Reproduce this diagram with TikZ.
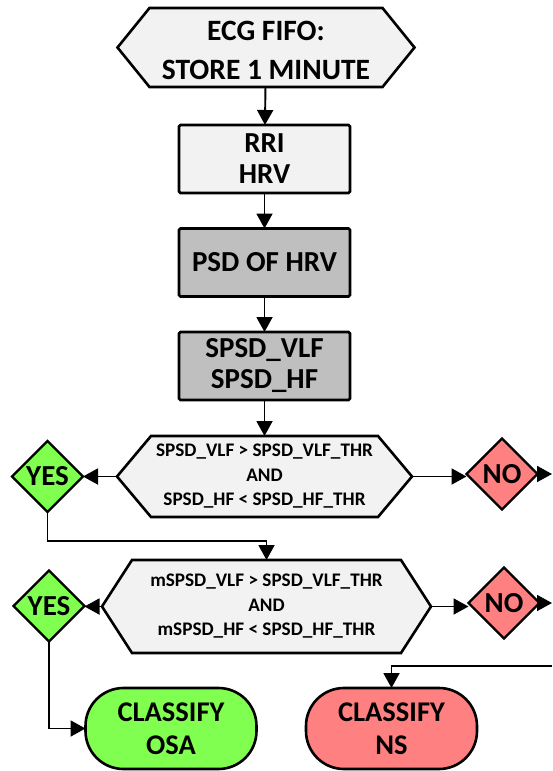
\documentclass[tikz,border=0pt]{standalone}
\usepackage{fontspec}
\setmainfont{Carlito}
\usetikzlibrary{arrows.meta,shapes.geometric,backgrounds,calc}
\definecolor{boxlight}{HTML}{F2F2F2}
\definecolor{boxdark}{HTML}{BFBFBF}
\definecolor{yesgreen}{HTML}{80FF50}
\definecolor{nored}{HTML}{FF8080}

% hexagonal outline drawn around a node: #1 node name, #2 tip depth, #3 fill
\newcommand\hexoutline[3]{%
  \draw[hexline,fill=#3] (#1.west) -- ($(#1.north west)+(#2,0)$) -- ($(#1.north east)+(-#2,0)$)
    -- (#1.east) -- ($(#1.south east)+(-#2,0)$) -- ($(#1.south west)+(#2,0)$) -- cycle;}

\begin{document}
\begin{tikzpicture}[x=1pt,y=-1pt,
  every node/.style={outer sep=0pt,inner sep=0pt,align=center},
  hexline/.style={line width=2.6pt,line join=miter},
  hextext/.style={font=\bfseries\fontsize{19.2}{24.5}\selectfont},
  procbox/.style={rectangle,draw,line width=2.6pt,rounded corners=1.5pt,
    minimum width=171pt,minimum height=68pt,font=\bfseries\fontsize{29}{31}\selectfont},
  answer/.style={diamond,draw,line width=2.2pt,minimum width=71pt,minimum height=71pt,
    font=\bfseries\fontsize{29}{30}\selectfont},
  terminal/.style={rectangle,draw,line width=2.6pt,rounded corners=38pt,
    minimum width=171pt,minimum height=81pt,font=\bfseries\fontsize{28.5}{33}\selectfont},
  flow/.style={line width=1.9pt,-{Triangle[length=15pt,width=16pt]}}
]
\useasboundingbox (0,0) rectangle (552,771);

% input stage: hexagon frame and its two-line caption
\node[minimum width=297pt,minimum height=79pt] (fifo) at (266,47.5) {};
\node[font=\bfseries\fontsize{29.5}{39}\selectfont] (fifolabel) at (266,50.5)
  {ECG FIFO:\\STORE 1 MINUTE};

% processing chain
\node[procbox,fill=boxlight] (rri) at (264.5,159) {RRI\\HRV};
\node[procbox,fill=boxdark] (psd) at (264.5,262.5) {PSD OF HRV};
\node[procbox,fill=boxdark] (spsd) at (264.5,366) {SPSD\_VLF\\SPSD\_HF};

% first test
\node[hextext,minimum width=295pt,minimum height=81pt] (testa) at (264.5,476.5)
  {SPSD\_VLF > SPSD\_VLF\_THR\\AND\\SPSD\_HF < SPSD\_HF\_THR};
\node[answer,fill=yesgreen] (yesa) at (47.5,476.5) {YES};
\node[answer,fill=nored] (noa) at (502,474) {NO};

% second test
\node[hextext,minimum width=329pt,minimum height=93pt] (testb) at (266.5,606.5)
  {mSPSD\_VLF > SPSD\_VLF\_THR\\AND\\mSPSD\_HF < SPSD\_HF\_THR};
\node[answer,fill=yesgreen] (yesb) at (49,606) {YES};
\node[answer,fill=nored] (nob) at (504,603) {NO};

% outcomes
\node[terminal,fill=yesgreen] (osa) at (171,728.5) {CLASSIFY\\OSA};
\node[terminal,fill=nored] (ns) at (391.5,728.5) {CLASSIFY\\NS};

\begin{scope}[on background layer]
  \hexoutline{fifo}{32}{boxlight}
  \hexoutline{testa}{34}{boxlight}
  \hexoutline{testb}{30}{boxlight}
\end{scope}

% free ends at the right margin
\coordinate (outa) at (552,474);
\coordinate (outb) at (552,603);
\coordinate (inns) at (552,666);
\coordinate (mida) at (47.5,541);

% connectors
\draw[flow] (fifo) -- (rri);
\draw[flow] (rri) -- (psd);
\draw[flow] (psd) -- (spsd);
\draw[flow] (spsd) -- (testa);
\draw[flow] (testa.west) -- (yesa.east);
\draw[flow] (testa.east) -- (testa.east -| noa.west);
\draw[flow] (noa.east) -- (outa);
\draw[flow] (yesa.south) -- (mida) -| (testb.north);
\draw[flow] (testb.west) -- (testb.west -| yesb.east);
\draw[flow] (testb.east) -- (testb.east -| nob.west);
\draw[flow] (nob.east) -- (outb);
\draw[flow] (yesb.south) |- (osa.west);
\draw[flow] (inns) -| (ns.north);
\end{tikzpicture}
\end{document}
